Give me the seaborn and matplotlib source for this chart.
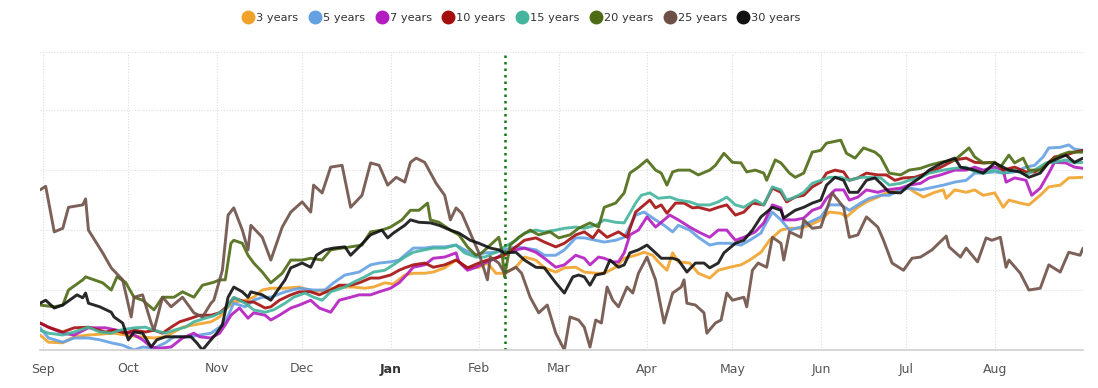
import pandas as pd
import matplotlib
matplotlib.use('Agg')
import matplotlib.pyplot as plt
import matplotlib.dates as mdates
from matplotlib.lines import Line2D
import seaborn as sns

# dias contados a partir de 1 set 2022, valores em pontos (grade a cada 10)
start = pd.Timestamp('2022-09-01')
line_day = 162  # linha pontilhada (10 fev)

y3_days = [-1, 2, 7, 11, 16, 25, 29, 34, 39, 43, 49, 53, 59, 62, 64, 67, 71, 74, 77, 80, 85, 90, 95, 99, 104, 109, 113, 116, 120, 123, 127, 130, 134, 137, 141, 145, 146, 149, 153, 156, 159, 162, 166, 169, 173, 176, 180, 183, 187, 190, 194, 197, 201, 204, 208, 211, 214, 216, 219, 221, 223, 227, 230, 234, 237, 241, 245, 248, 252, 255, 259, 262, 266, 269, 273, 276, 280, 282, 286, 289, 293, 296, 300, 304, 306, 309, 313, 316, 317, 320, 324, 327, 330, 334, 337, 339, 343, 346, 350, 353, 357, 360, 365]
y3_vals = [2.5, 1.3, 1.2, 2.2, 2.5, 2.8, 2.5, 2.2, 2.0, 2.2, 3.8, 4.2, 4.7, 5.5, 6.7, 8.0, 8.3, 8.8, 10.0, 10.3, 10.3, 10.5, 9.7, 10.0, 10.5, 10.5, 10.3, 10.5, 11.2, 11.0, 12.5, 12.8, 12.8, 13.0, 13.7, 15.0, 14.7, 13.7, 13.8, 14.5, 12.8, 12.8, 13.8, 15.5, 15.0, 13.7, 13.0, 13.7, 13.8, 13.0, 12.8, 12.8, 13.8, 15.3, 15.8, 16.3, 15.8, 14.7, 13.3, 16.2, 14.7, 14.5, 12.8, 12.0, 13.3, 13.8, 14.2, 15.0, 16.3, 18.3, 20.0, 20.3, 20.3, 20.8, 21.7, 23.0, 22.8, 22.2, 23.8, 24.7, 25.5, 26.2, 26.7, 27.0, 26.3, 25.5, 26.3, 26.7, 25.3, 26.7, 26.3, 26.7, 25.8, 26.2, 23.8, 25.0, 24.5, 24.2, 25.8, 27.2, 27.5, 28.7, 28.8]

y5_days = [-1, 2, 7, 11, 16, 20, 24, 28, 32, 35, 39, 43, 46, 52, 55, 59, 62, 64, 67, 71, 74, 77, 80, 85, 90, 95, 99, 102, 106, 111, 115, 118, 122, 125, 127, 130, 134, 137, 141, 145, 148, 152, 155, 159, 162, 166, 169, 173, 176, 180, 183, 187, 190, 194, 197, 201, 204, 208, 211, 215, 218, 221, 223, 227, 230, 234, 237, 241, 245, 248, 252, 253, 256, 259, 262, 266, 269, 273, 276, 280, 283, 287, 290, 294, 297, 301, 304, 308, 311, 316, 320, 324, 327, 330, 334, 337, 341, 345, 348, 351, 353, 357, 360, 362, 365]
y5_vals = [3.7, 2.0, 1.3, 2.0, 2.0, 1.7, 1.2, 0.8, 0.0, 0.5, 0.3, 1.2, 2.2, 2.2, 2.5, 2.8, 3.8, 4.7, 7.8, 7.2, 8.3, 8.8, 8.8, 9.7, 10.3, 10.0, 10.0, 11.2, 12.5, 13.0, 14.2, 14.5, 14.7, 15.0, 15.8, 17.0, 17.0, 17.2, 17.2, 17.5, 16.7, 15.8, 16.2, 16.3, 16.7, 17.2, 17.0, 16.7, 15.8, 15.8, 16.7, 18.7, 18.7, 18.3, 18.0, 18.3, 18.8, 22.5, 23.0, 21.7, 20.8, 19.7, 20.8, 20.0, 18.8, 17.5, 17.8, 17.8, 17.5, 18.3, 19.5, 20.5, 23.0, 21.7, 20.0, 20.5, 21.3, 22.2, 24.2, 24.2, 23.3, 24.5, 25.3, 25.8, 25.8, 26.7, 27.0, 26.7, 27.0, 27.5, 28.0, 28.3, 29.5, 29.5, 29.7, 29.5, 29.7, 30.5, 30.8, 32.2, 33.7, 33.8, 34.2, 33.5, 33.3]

y7_days = [-1, 2, 7, 11, 16, 22, 26, 31, 35, 38, 41, 45, 49, 53, 55, 59, 62, 64, 66, 69, 72, 74, 78, 80, 83, 87, 90, 94, 97, 101, 104, 108, 111, 115, 118, 122, 125, 127, 130, 134, 137, 141, 145, 146, 149, 152, 155, 159, 162, 166, 169, 173, 176, 180, 183, 187, 190, 192, 195, 197, 200, 202, 204, 206, 209, 212, 215, 217, 220, 223, 227, 230, 234, 237, 240, 243, 246, 250, 253, 256, 259, 260, 264, 267, 270, 273, 275, 278, 281, 283, 286, 289, 293, 296, 301, 304, 308, 311, 315, 320, 324, 327, 330, 334, 337, 338, 341, 345, 347, 350, 353, 355, 359, 362, 365]
y7_vals = [4.5, 3.8, 2.8, 2.5, 3.7, 3.7, 3.3, 2.8, 1.7, 0.5, 0.3, 0.5, 2.0, 2.8, 2.2, 2.0, 2.8, 4.2, 5.8, 7.0, 5.3, 6.2, 5.8, 5.0, 5.8, 7.0, 7.5, 8.3, 7.0, 6.3, 8.3, 8.8, 9.2, 9.2, 9.7, 10.3, 11.2, 12.2, 13.8, 14.2, 15.3, 15.5, 16.2, 14.7, 13.3, 13.8, 14.5, 15.3, 16.2, 16.7, 17.0, 16.3, 15.3, 13.8, 14.2, 15.8, 15.3, 14.2, 15.5, 15.3, 14.7, 14.7, 16.2, 19.2, 20.0, 22.2, 20.5, 21.3, 22.5, 21.7, 20.5, 19.7, 18.8, 20.0, 20.0, 18.3, 18.8, 19.7, 21.2, 24.2, 23.7, 21.7, 21.7, 22.0, 23.3, 23.8, 25.3, 26.7, 26.7, 25.0, 25.5, 26.7, 26.3, 26.7, 27.0, 27.5, 27.8, 28.7, 29.2, 30.0, 30.0, 30.5, 30.0, 30.5, 30.0, 28.0, 28.7, 28.3, 25.8, 27.0, 29.5, 31.3, 31.2, 30.5, 30.3]

y10_days = [-1, 2, 7, 11, 16, 22, 25, 29, 32, 36, 39, 42, 45, 48, 52, 55, 59, 62, 64, 67, 71, 74, 78, 80, 83, 87, 90, 94, 97, 101, 104, 108, 111, 115, 118, 122, 125, 127, 130, 134, 137, 141, 145, 146, 149, 153, 156, 160, 162, 166, 169, 173, 176, 180, 183, 187, 190, 193, 195, 198, 202, 205, 208, 210, 213, 215, 217, 219, 222, 225, 228, 230, 234, 237, 240, 243, 246, 249, 253, 256, 259, 261, 264, 267, 270, 273, 275, 278, 281, 283, 286, 289, 293, 296, 299, 302, 306, 309, 313, 316, 320, 324, 327, 330, 334, 337, 341, 345, 348, 352, 355, 359, 362, 365]
y10_vals = [4.5, 3.8, 3.0, 3.7, 3.8, 3.0, 3.3, 2.8, 3.3, 3.0, 3.3, 2.8, 3.8, 4.7, 5.3, 5.8, 5.8, 6.2, 7.0, 8.7, 8.0, 8.0, 7.0, 7.2, 8.3, 9.2, 9.7, 9.7, 9.2, 10.0, 10.8, 10.8, 11.2, 12.0, 12.0, 12.5, 13.3, 13.7, 14.2, 14.5, 13.8, 14.2, 15.0, 14.7, 13.7, 14.5, 15.0, 15.5, 15.8, 17.2, 18.3, 18.7, 18.0, 17.2, 17.8, 19.2, 19.7, 18.7, 20.0, 18.8, 19.7, 18.8, 23.0, 23.8, 25.0, 23.7, 24.2, 22.8, 24.5, 24.5, 23.7, 23.8, 23.3, 23.8, 24.2, 22.5, 23.0, 24.5, 24.2, 27.0, 26.3, 24.7, 25.5, 25.8, 27.2, 28.0, 29.5, 30.0, 29.7, 28.3, 28.7, 29.5, 29.2, 29.2, 28.3, 28.7, 28.8, 29.3, 30.0, 30.7, 31.7, 32.0, 31.3, 31.2, 31.3, 30.0, 30.5, 29.7, 29.7, 30.8, 32.2, 32.5, 33.0, 33.3]

y15_days = [-1, 2, 7, 11, 16, 20, 24, 27, 32, 36, 39, 43, 46, 50, 53, 57, 60, 64, 67, 71, 74, 78, 81, 85, 88, 92, 95, 98, 101, 106, 109, 113, 116, 120, 123, 127, 130, 134, 137, 141, 145, 148, 152, 155, 159, 162, 166, 169, 173, 176, 180, 183, 187, 190, 194, 197, 201, 204, 208, 210, 213, 216, 220, 223, 227, 230, 234, 237, 240, 243, 246, 250, 253, 256, 259, 261, 264, 267, 270, 273, 276, 280, 283, 287, 290, 294, 297, 301, 304, 308, 311, 316, 320, 324, 327, 330, 334, 337, 341, 345, 348, 352, 355, 359, 362, 365]
y15_vals = [3.3, 2.8, 2.5, 3.0, 3.8, 3.0, 2.8, 3.3, 3.7, 3.8, 3.3, 2.8, 3.3, 3.8, 4.7, 5.3, 5.7, 6.7, 8.8, 7.8, 6.7, 6.3, 6.7, 7.8, 8.8, 9.5, 8.8, 8.3, 9.7, 10.5, 11.3, 12.2, 13.0, 13.3, 14.2, 15.5, 16.3, 16.7, 17.0, 17.0, 17.5, 16.2, 15.5, 15.5, 16.3, 17.2, 18.3, 19.5, 20.0, 19.7, 20.0, 20.3, 20.5, 20.3, 20.8, 21.7, 21.3, 21.2, 24.5, 25.8, 26.2, 25.3, 25.5, 25.0, 24.7, 24.2, 24.2, 24.7, 25.5, 24.2, 23.8, 25.0, 24.2, 27.2, 26.7, 25.0, 25.5, 26.3, 27.8, 28.3, 28.8, 28.8, 28.3, 28.8, 28.8, 28.7, 27.5, 27.8, 28.3, 28.8, 29.5, 30.0, 30.3, 30.5, 29.7, 29.5, 30.0, 29.5, 30.0, 29.2, 30.0, 31.2, 31.3, 31.7, 31.2, 31.3]

y20_days = [-1, 4, 7, 9, 14, 15, 21, 24, 26, 29, 32, 35, 39, 42, 46, 49, 53, 56, 60, 62, 64, 66, 67, 70, 72, 74, 77, 80, 84, 87, 91, 94, 98, 101, 105, 108, 112, 115, 119, 122, 126, 129, 132, 135, 136, 139, 143, 146, 149, 152, 154, 157, 160, 161, 162, 164, 167, 171, 174, 178, 181, 185, 188, 192, 195, 197, 201, 204, 206, 209, 212, 215, 217, 219, 221, 223, 227, 230, 234, 236, 239, 242, 245, 247, 250, 253, 254, 257, 259, 262, 264, 267, 270, 273, 275, 280, 282, 285, 288, 292, 294, 297, 301, 304, 308, 311, 315, 320, 325, 327, 330, 334, 336, 339, 341, 344, 346, 350, 353, 357, 360, 365]
y20_vals = [7.5, 7.2, 7.5, 10.0, 11.7, 12.2, 11.2, 10.0, 12.2, 11.3, 8.8, 8.3, 6.7, 8.8, 8.8, 9.7, 8.8, 10.8, 11.3, 11.7, 11.7, 17.8, 18.3, 17.8, 15.8, 14.5, 13.0, 11.2, 12.8, 15.0, 15.0, 15.3, 15.0, 16.7, 17.0, 17.2, 17.5, 19.7, 20.0, 20.5, 21.7, 23.3, 23.3, 24.5, 21.7, 21.3, 20.0, 19.2, 17.2, 15.8, 16.2, 17.5, 18.8, 16.7, 12.2, 17.5, 18.8, 20.0, 19.2, 19.7, 18.7, 19.2, 20.3, 21.2, 20.5, 23.8, 24.5, 26.2, 29.5, 30.5, 31.7, 30.0, 29.5, 27.5, 29.7, 30.0, 30.0, 29.2, 30.0, 30.8, 32.8, 31.3, 31.2, 29.7, 30.0, 29.5, 28.3, 31.7, 31.2, 29.5, 28.8, 29.5, 33.0, 33.3, 34.5, 35.0, 32.8, 32.0, 33.7, 33.0, 32.2, 29.5, 29.2, 30.0, 30.3, 30.8, 31.3, 31.7, 33.7, 32.2, 31.2, 31.3, 30.5, 32.5, 31.2, 32.0, 30.0, 30.0, 31.3, 32.5, 33.0, 33.0]

y25_days = [-1, 1, 4, 7, 9, 14, 15, 16, 21, 24, 28, 31, 32, 35, 38, 39, 42, 45, 49, 53, 56, 59, 60, 63, 65, 67, 70, 72, 73, 77, 80, 84, 87, 91, 94, 95, 98, 101, 105, 108, 112, 115, 118, 121, 124, 127, 129, 131, 134, 138, 141, 143, 145, 147, 150, 153, 156, 157, 160, 162, 166, 168, 171, 174, 177, 180, 183, 185, 188, 190, 192, 194, 196, 198, 200, 202, 205, 207, 209, 212, 215, 218, 221, 224, 225, 226, 229, 232, 233, 236, 238, 240, 242, 246, 247, 249, 251, 254, 256, 259, 260, 262, 266, 267, 270, 273, 277, 281, 283, 286, 289, 293, 295, 298, 302, 305, 308, 312, 317, 318, 322, 324, 328, 331, 333, 336, 338, 339, 343, 346, 350, 353, 357, 360, 364, 365]
y25_vals = [26.7, 27.3, 19.7, 20.3, 23.8, 24.2, 25.2, 20.0, 16.2, 13.7, 11.7, 5.5, 8.8, 9.2, 4.5, 3.3, 8.8, 7.2, 8.8, 6.2, 5.5, 7.8, 8.3, 13.3, 22.5, 23.7, 20.0, 16.7, 20.8, 18.8, 15.0, 20.5, 23.0, 24.7, 23.0, 27.5, 26.2, 30.5, 30.8, 23.8, 25.8, 31.2, 30.8, 27.5, 28.8, 28.0, 31.3, 32.0, 31.3, 27.8, 25.8, 21.7, 23.7, 22.8, 19.5, 16.2, 11.7, 15.5, 14.5, 12.8, 13.8, 12.8, 8.8, 6.2, 7.5, 2.8, 0.0, 5.5, 5.0, 3.8, 0.5, 5.0, 4.5, 10.5, 8.3, 7.2, 10.5, 9.5, 12.8, 15.5, 11.7, 4.5, 9.5, 10.5, 11.7, 7.8, 7.5, 6.2, 2.8, 4.5, 5.0, 9.5, 8.3, 8.8, 7.2, 13.3, 14.5, 13.8, 18.8, 17.8, 15.0, 19.7, 18.8, 21.7, 20.3, 20.5, 26.2, 23.8, 18.8, 19.2, 22.2, 20.5, 18.3, 14.5, 13.3, 15.3, 15.5, 16.7, 19.0, 17.2, 15.5, 17.0, 14.7, 18.7, 18.3, 18.8, 13.8, 15.0, 12.8, 10.0, 10.3, 14.2, 13.0, 16.3, 15.8, 17.0]

y30_days = [-1, 1, 4, 7, 12, 14, 15, 16, 20, 24, 25, 28, 30, 32, 35, 38, 40, 43, 46, 52, 54, 56, 59, 61, 63, 65, 67, 70, 72, 73, 77, 80, 82, 85, 87, 91, 94, 96, 99, 102, 106, 108, 111, 115, 119, 121, 123, 127, 129, 132, 136, 139, 143, 146, 150, 153, 157, 160, 162, 166, 169, 173, 176, 180, 183, 186, 188, 190, 192, 194, 197, 199, 202, 204, 206, 209, 212, 215, 217, 221, 223, 226, 229, 232, 234, 237, 239, 243, 246, 249, 252, 254, 256, 259, 260, 264, 267, 270, 273, 275, 278, 281, 283, 286, 289, 292, 294, 297, 301, 304, 308, 311, 316, 320, 322, 327, 330, 334, 339, 343, 346, 350, 353, 359, 362, 365]
y30_vals = [7.8, 8.3, 7.0, 7.5, 9.2, 8.7, 9.5, 7.8, 7.2, 6.3, 5.5, 4.5, 1.7, 3.0, 2.8, 0.5, 1.7, 2.2, 2.2, 2.2, 1.2, 0.0, 1.7, 2.8, 4.2, 8.8, 10.5, 9.7, 8.8, 9.7, 9.2, 8.3, 9.7, 11.7, 13.7, 14.5, 13.8, 15.8, 16.7, 17.0, 17.2, 15.8, 17.2, 19.2, 20.0, 18.7, 19.5, 20.8, 21.7, 21.3, 21.2, 20.8, 20.0, 19.5, 18.3, 17.8, 17.0, 16.7, 16.2, 16.3, 15.0, 13.8, 13.7, 11.2, 9.5, 12.2, 12.5, 12.2, 10.8, 12.5, 12.8, 15.0, 13.8, 14.2, 16.2, 16.7, 17.5, 16.2, 15.3, 15.3, 15.0, 13.0, 14.5, 14.5, 13.7, 14.5, 16.2, 17.8, 18.3, 20.0, 22.2, 23.0, 23.8, 23.3, 22.0, 23.3, 23.8, 24.5, 25.0, 27.5, 28.8, 28.3, 26.3, 26.3, 28.3, 28.7, 27.8, 26.3, 26.2, 27.5, 28.8, 30.0, 31.3, 32.0, 30.5, 30.0, 29.5, 31.2, 30.0, 29.7, 28.8, 29.5, 31.3, 32.5, 31.3, 32.0]

labels = ['3 years', '5 years', '7 years', '10 years', '15 years', '20 years', '25 years', '30 years']
colors = ['#f0a22a', '#64a0e2', '#b31cc0', '#a50e0e', '#44b49c', '#4d6b14', '#6e5046', '#111111']
series = [(y3_days, y3_vals), (y5_days, y5_vals), (y7_days, y7_vals), (y10_days, y10_vals),
          (y15_days, y15_vals), (y20_days, y20_vals), (y25_days, y25_vals), (y30_days, y30_vals)]

frames = []
for lab, (d, v) in zip(labels, series):
    frames.append(pd.DataFrame({'date': start + pd.to_timedelta(d, unit='D'), 'value': v, 'serie': lab}))
df = pd.concat(frames, ignore_index=True)

sns.set_style('white')
plt.rcParams['font.family'] = ['DejaVu Sans']

fig = plt.figure(figsize=(10.98, 3.88), dpi=100)
ax = fig.add_axes([40 / 1098, 38 / 388, 1043 / 1098, 298 / 388])

sns.lineplot(data=df, x='date', y='value', hue='serie', hue_order=labels,
             palette=dict(zip(labels, colors)), linewidth=2.1, alpha=0.9,
             sort=False, estimator=None, legend=False, ax=ax)

ax.axvline(start + pd.Timedelta(days=line_day), color='#117a11', linestyle=(0, (1, 1.6)), linewidth=1.8)

ax.set_xlim(start - pd.Timedelta(days=1), start + pd.Timedelta(days=365))
ax.set_ylim(0, 49.7)
ax.set_yticks([0, 10, 20, 30, 40, 49.7])
ax.set_yticklabels([])
ax.tick_params(axis='y', length=0)

month_ticks = pd.date_range('2022-09-01', '2023-08-01', freq='MS')
ax.set_xticks(month_ticks)
ax.xaxis.set_major_formatter(mdates.DateFormatter('%b'))
ax.tick_params(axis='x', length=0, labelsize=9, labelcolor='#555555', pad=9)
for t in ax.get_xticklabels():
    if t.get_text() == 'Jan':
        t.set_fontweight('bold')
        t.set_color('#333333')

ax.grid(True, color='#dddddd', linestyle=(0, (1, 1.5)), linewidth=0.8)
for s in ['top', 'right', 'left']:
    ax.spines[s].set_visible(False)
ax.spines['bottom'].set_color('#d0d0d0')
ax.spines['bottom'].set_linewidth(1.2)
ax.set_xlabel('')
ax.set_ylabel('')

handles = [Line2D([], [], marker='o', linestyle='', markersize=9, color=c) for c in colors]
fig.legend(handles, labels, loc='center', bbox_to_anchor=(522 / 1098, 1 - 18 / 388), ncol=8,
           frameon=False, fontsize=8.2, handlelength=0.9, handletextpad=0.25,
           columnspacing=1.0, labelcolor='#333333')

fig.savefig('out.png', dpi=100)
